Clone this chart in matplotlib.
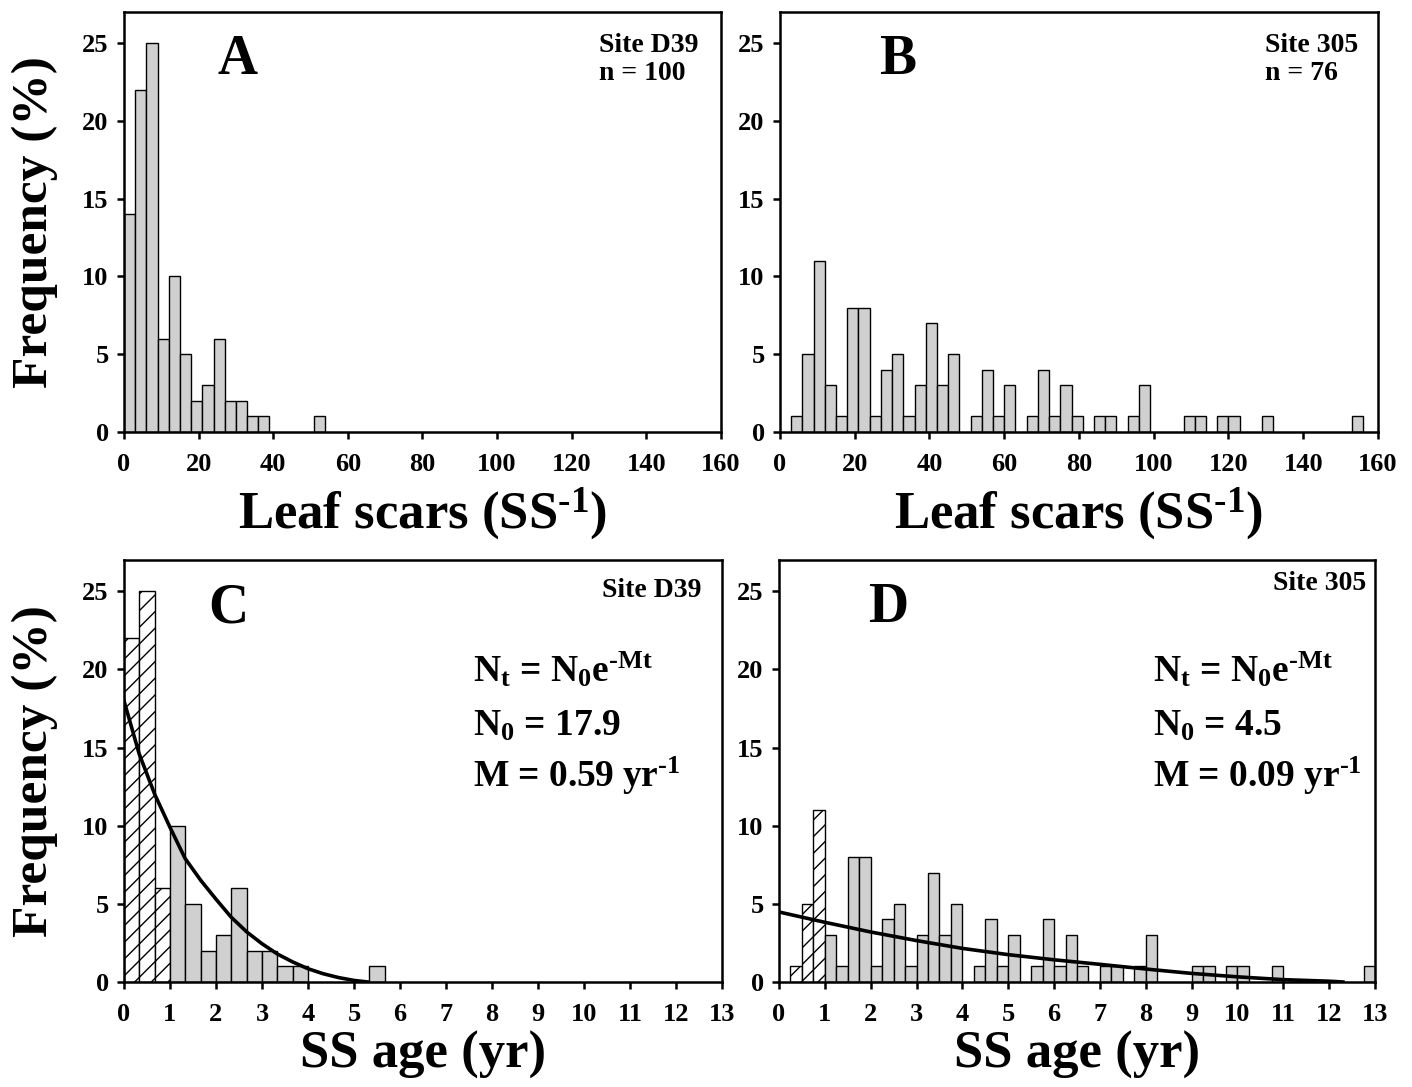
import numpy as np
import matplotlib
matplotlib.use("Agg")
import matplotlib.pyplot as plt

plt.rcParams["font.family"] = ["Liberation Serif", "DejaVu Serif"]
plt.rcParams["font.weight"] = "bold"
plt.rcParams["mathtext.fontset"] = "custom"
plt.rcParams["mathtext.rm"] = "Liberation Serif:bold"
plt.rcParams["mathtext.it"] = "Liberation Serif:bold"
plt.rcParams["mathtext.bf"] = "Liberation Serif:bold"
plt.rcParams["hatch.linewidth"] = 1.0

# leaf-scar classes are 3 scars wide, starting at 0
SCAR_BIN = 3
freq_d39 = [14, 22, 25, 6, 10, 5, 2, 3, 6, 2, 2, 1, 1, 0, 0, 0, 0, 1]
freq_305 = [0, 1, 5, 11, 3, 1, 8, 8, 1, 4, 5, 1, 3, 7, 3, 5, 0, 1, 4, 1,
            3, 0, 1, 4, 1, 3, 1, 0, 1, 1, 0, 1, 3, 0, 0, 0, 1, 1, 0, 1,
            1, 0, 0, 1, 0, 0, 0, 0, 0, 0, 0, 1]

# age classes: D39 bins are 1/3 yr, 305 bins are 0.25 yr
AGE_BIN_D39 = 1 / 3
AGE_BIN_305 = 0.25
age_freq_d39 = [22, 25, 6, 10, 5, 2, 3, 6, 2, 2, 1, 1, 0, 0, 0, 0, 1]
age_freq_305 = freq_305

# fitted mortality curves
fit_t_d39 = [0, 0.33, 0.67, 1.0, 1.33, 1.67, 2.0, 2.33, 2.67, 3.0, 3.33,
             3.67, 4.0, 4.33, 4.67, 5.0, 5.3]
fit_n_d39 = [18.0, 14.6, 12.0, 9.9, 7.9, 6.5, 5.3, 4.15, 3.2, 2.45, 1.8,
             1.28, 0.85, 0.53, 0.28, 0.1, 0.0]
fit_t_305 = [0, 1, 2, 3, 4, 5, 6, 7, 8, 9, 10, 11, 12, 12.3]
fit_n_305 = [4.48, 3.82, 3.2, 2.65, 2.15, 1.75, 1.42, 1.13, 0.83, 0.55,
             0.33, 0.15, 0.05, 0.0]

STIPPLE = "#d0d0d0"
SCARS_LABEL = r"Leaf scars (SS$^{\text{-}1}$)"
EQ = r"N$_\mathregular{t}$ = N$_\mathregular{0}$e$^{\text{-Mt}}$"

fig = plt.figure(figsize=(14.12, 10.87), dpi=100)
axA = fig.add_axes([0.0878, 0.6026, 0.4228, 0.3864])
axB = fig.add_axes([0.5524, 0.6026, 0.4235, 0.3864])
axC = fig.add_axes([0.0878, 0.0966, 0.4235, 0.3882])
axD = fig.add_axes([0.5517, 0.0966, 0.4221, 0.3882])


def style(ax, xmax, xticks, ylabel=False):
    ax.set_xlim(0, xmax)
    ax.set_ylim(0, 27)
    ax.set_xticks(xticks)
    ax.set_yticks(range(0, 26, 5))
    for s in ax.spines.values():
        s.set_linewidth(1.8)
    ax.tick_params(axis="both", direction="out", length=5, width=1.8,
                   labelsize=19)
    ax.tick_params(axis="x", pad=10)
    ax.tick_params(axis="y", pad=6)
    if ylabel:
        ax.text(-0.149, 0.5, "Frequency (%)", rotation=90, ha="center",
                va="center", fontsize=37, transform=ax.transAxes)


def bars(ax, freq, width, hatched=0):
    x = np.arange(len(freq)) * width
    for i, (xi, fi) in enumerate(zip(x, freq)):
        if fi <= 0:
            continue
        if i < hatched:
            ax.bar(xi, fi, width=width, align="edge", color="white",
                   edgecolor="black", linewidth=1.0, hatch="//")
        else:
            ax.bar(xi, fi, width=width, align="edge", color=STIPPLE,
                   edgecolor="black", linewidth=1.0)


# A
bars(axA, freq_d39, SCAR_BIN)
style(axA, 160, range(0, 161, 20), ylabel=True)
axA.text(0.19, 0.886, "A", fontsize=40, ha="center", va="center",
         transform=axA.transAxes)
axA.text(0.796, 0.905, "Site D39", fontsize=20, ha="left", va="baseline",
         transform=axA.transAxes)
axA.text(0.796, 0.838, "n = 100", fontsize=20, ha="left", va="baseline",
         transform=axA.transAxes)
axA.text(0.5, -0.229, SCARS_LABEL, fontsize=38, ha="center",
         va="baseline", transform=axA.transAxes)

# B
bars(axB, freq_305, SCAR_BIN)
style(axB, 160, range(0, 161, 20))
axB.text(0.197, 0.886, "B", fontsize=40, ha="center", va="center",
         transform=axB.transAxes)
axB.text(0.811, 0.905, "Site 305", fontsize=20, ha="left", va="baseline",
         transform=axB.transAxes)
axB.text(0.811, 0.838, "n = 76", fontsize=20, ha="left", va="baseline",
         transform=axB.transAxes)
axB.text(0.5, -0.229, SCARS_LABEL, fontsize=38, ha="center",
         va="baseline", transform=axB.transAxes)

# C
bars(axC, age_freq_d39, AGE_BIN_D39, hatched=3)
axC.plot(fit_t_d39, fit_n_d39, color="black", lw=2.6)
style(axC, 13, range(0, 14), ylabel=True)
axC.text(0.174, 0.886, "C", fontsize=40, ha="center", va="center",
         transform=axC.transAxes)
axC.text(0.799, 0.912, "Site D39", fontsize=20, ha="left", va="baseline",
         transform=axC.transAxes)
axC.text(0.584, 0.711, EQ, fontsize=27, ha="left", va="baseline",
         transform=axC.transAxes)
axC.text(0.584, 0.585, r"N$_\mathregular{0}$ = 17.9", fontsize=27, ha="left",
         va="baseline", transform=axC.transAxes)
axC.text(0.584, 0.462, r"M = 0.59 yr$^{\text{-}1}$", fontsize=27, ha="left",
         va="baseline", transform=axC.transAxes)
axC.text(0.5, -0.204, "SS age (yr)", fontsize=38, ha="center",
         va="baseline", transform=axC.transAxes)

# D
bars(axD, age_freq_305, AGE_BIN_305, hatched=4)
axD.plot(fit_t_305, fit_n_305, color="black", lw=2.6)
style(axD, 13, range(0, 14))
axD.text(0.183, 0.886, "D", fontsize=40, ha="center", va="center",
         transform=axD.transAxes)
axD.text(0.829, 0.929, "Site 305", fontsize=20, ha="left", va="baseline",
         transform=axD.transAxes)
axD.text(0.6275, 0.711, EQ, fontsize=27, ha="left", va="baseline",
         transform=axD.transAxes)
axD.text(0.6275, 0.585, r"N$_\mathregular{0}$ = 4.5", fontsize=27, ha="left",
         va="baseline", transform=axD.transAxes)
axD.text(0.6275, 0.462, r"M = 0.09 yr$^{\text{-}1}$", fontsize=27, ha="left",
         va="baseline", transform=axD.transAxes)
axD.text(0.5, -0.204, "SS age (yr)", fontsize=38, ha="center",
         va="baseline", transform=axD.transAxes)

fig.savefig("out.png", dpi=100)
